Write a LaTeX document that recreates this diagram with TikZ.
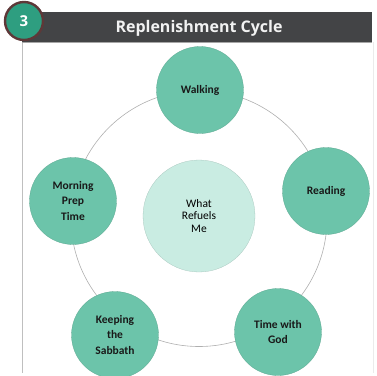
\documentclass[tikz,border=0pt]{standalone}
\usepackage{fontspec}
\setmainfont{Carlito}
\newfontfamily\titlefont{Open Sans}
\definecolor{teal1}{HTML}{6CC4AA}
\definecolor{teallight}{HTML}{C9ECE2}
\definecolor{barcol}{HTML}{434446}
\definecolor{badgefill}{HTML}{2E9E80}
\definecolor{badgerim}{HTML}{5E3838}
\definecolor{ringcol}{HTML}{AFAFAF}
\begin{document}
\begin{tikzpicture}[x=1pt,y=-1pt,
  outer/.style={circle,fill=teal1,draw=teal1!85!black,line width=0.3pt,minimum size=87pt,inner sep=0pt,align=center,font=\fontsize{11.5}{15.5}\selectfont\bfseries,text=black!90},
  inner/.style={circle,fill=teallight,draw=teallight!85!black,line width=0.3pt,minimum size=112pt,inner sep=0pt,align=center,font=\fontsize{11.5}{12.5}\selectfont,text=black},
  framel/.style={draw=black!25,line width=1pt}]
\useasboundingbox (0,0) rectangle (377,375);
% frame
\coordinate (fl1) at (22,42);
\coordinate (fl2) at (22,373);
\draw[framel] (fl1) -- (fl2);
\coordinate (fr1) at (373,42);
\coordinate (fr2) at (373,373);
\draw[draw=black!8,line width=0.6pt] (fr1) -- (fr2);
% header
\fill[barcol] (22,12) rectangle (372,42);
\draw[black!35,line width=1pt] (22,42) -- (372,42);
\node[font=\titlefont\bfseries\fontsize{16}{18}\selectfont,text=white!95!black] (title) at (199,28) {Replenishment Cycle};
% badge
\node[circle,fill=badgefill,draw=badgerim,line width=2.4pt,minimum size=38pt,inner sep=0pt,font=\titlefont\bfseries\fontsize{15}{16}\selectfont,text=white] (badge) at (24,21) {3};
% ring
\coordinate (rc) at (199,218.5);
\draw[ringcol,line width=0.6pt] (rc) circle[radius=128];
% nodes
\node[inner] (center) at (199,216) {What\\Refuels\\Me};
\node[outer] (walk) at (200,90) {Walking};
\node[outer] (read) at (326,191) {Reading};
\node[outer] (god) at (278,332) {Time with\\God};
\node[outer] (sab) at (115,335) {Keeping\\the\\Sabbath};
\node[outer] (morn) at (73,201) {Morning\\Prep\\Time};
\end{tikzpicture}
\end{document}
